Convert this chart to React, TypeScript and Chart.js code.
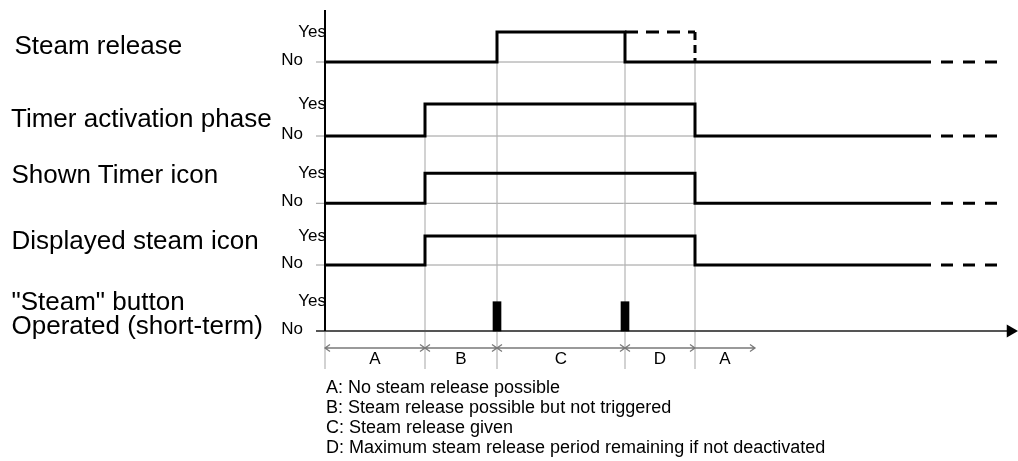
import React, { useEffect, useRef } from "react";
import { Chart, registerables } from "chart.js";

Chart.register(...registerables);

// ---------------- data ----------------
const signalLabels = [
  "Steam release",
  "Timer activation phase",
  "Shown Timer icon",
  "Displayed steam icon",
  "\"Steam\" button",
  "Operated (short-term)",
];
const stateLabels = ["No", "Yes"];

// time instants (arbitrary time units)
const phaseStarts = [0, 10, 17.2, 30, 37];
const phaseEnds = [10, 17.2, 30, 37, 43];
const phaseLabels = ["A", "B", "C", "D", "A"];
const phaseHasStartHead = [true, true, true, true, false];
const phaseDescriptions = [
  "A: No steam release possible",
  "B: Steam release possible but not triggered",
  "C: Steam release given",
  "D: Maximum steam release period remaining if not deactivated",
];

const steamReleaseTimes = [0, 17.2, 30, 60.6];
const steamReleaseStates = [0, 1, 0, 0];
const steamReleaseMaxTimes = [30, 37];
const steamReleaseMaxStates = [1, 1];

const timerPhaseTimes = [0, 10, 37, 60.6];
const timerPhaseStates = [0, 1, 0, 0];
const timerIconTimes = [0, 10, 37, 60.6];
const timerIconStates = [0, 1, 0, 0];
const steamIconTimes = [0, 10, 37, 60.6];
const steamIconStates = [0, 1, 0, 0];

const buttonPressTimes = [17.2, 30];
const continuationTimes = [61.6, 67.2];
const timeAxisEnd = 68.55;

// ---------------- layout ----------------
const ROW_NO = [269, 195, 127.7, 66, 0];
const ROW_H = [30, 32, 30, 29, 29.3];
const AXIS_TOP = 321;
const GRID_BOTTOM = -38;
const GRID_TOPS = [0, 227, 299, 299, 269];
const ARROW_Y = -17;
const LETTER_Y = -28;
const TICK_START = -0.9;

const lvl = (row: number, s: number) => ROW_NO[row] + s * ROW_H[row];
const stepData = (row: number, times: number[], states: number[]) =>
  times.map((t, i) => ({ x: t, y: lvl(row, states[i]) }));

const FONT = '"Liberation Sans", Arial, Helvetica, sans-serif';

const rowLabelPos = [
  { left: 14.5, base: 54 },
  { left: 11, base: 127 },
  { left: 11.5, base: 183 },
  { left: 11.5, base: 249 },
  { left: 11.5, base: 310 },
  { left: 11.5, base: 334 },
];

export default function App() {
  const canvasRef = useRef<HTMLCanvasElement | null>(null);

  useEffect(() => {
    if (!canvasRef.current) return;

    const thick = (data: any[], extra: any = {}) => ({
      type: "line",
      data,
      borderColor: "#000",
      borderWidth: 3,
      pointRadius: 0,
      borderJoinStyle: "miter",
      borderCapStyle: "butt",
      fill: false,
      order: 1,
      ...extra,
    });

    // gray baselines (No level) with tick
    const baseSeg: any[] = [];
    for (let r = 0; r < 4; r++) {
      baseSeg.push({ x: TICK_START, y: lvl(r, 0) }, { x: 60.6, y: lvl(r, 0) }, { x: TICK_START, y: null });
    }
    // vertical phase grid lines
    const gridSeg: any[] = [];
    phaseStarts.forEach((t, i) => {
      gridSeg.push({ x: t, y: GRID_TOPS[i] }, { x: t, y: GRID_BOTTOM }, { x: t, y: null });
    });
    // phase arrows
    const arrowSeg: any[] = [];
    const hx = 0.5;
    const hy = 3.5;
    phaseStarts.forEach((s, i) => {
      const e = phaseEnds[i];
      arrowSeg.push({ x: s, y: ARROW_Y }, { x: e, y: ARROW_Y }, { x: e, y: null });
      arrowSeg.push({ x: e - hx, y: ARROW_Y + hy }, { x: e, y: ARROW_Y }, { x: e - hx, y: ARROW_Y - hy }, { x: e, y: null });
      if (phaseHasStartHead[i]) {
        arrowSeg.push({ x: s + hx, y: ARROW_Y + hy }, { x: s, y: ARROW_Y }, { x: s + hx, y: ARROW_Y - hy }, { x: s, y: null });
      }
    });

    const datasets: any[] = [
      {
        type: "line",
        data: baseSeg,
        borderColor: "#9a9a9a",
        borderWidth: 1,
        pointRadius: 0,
        spanGaps: false,
        order: 10,
      },
      {
        type: "line",
        data: gridSeg,
        borderColor: "#b5b5b5",
        borderWidth: 1.2,
        pointRadius: 0,
        spanGaps: false,
        order: 9,
      },
      {
        type: "line",
        data: arrowSeg,
        borderColor: "#7a7a7a",
        borderWidth: 1.3,
        pointRadius: 0,
        spanGaps: false,
        order: 8,
      },
      // y axis
      thick([{ x: 0, y: 0 }, { x: 0, y: AXIS_TOP }], { borderWidth: 2, order: 2 }),
      // x axis with arrow head
      {
        type: "line",
        data: [{ x: TICK_START, y: 0 }, { x: timeAxisEnd, y: 0 }],
        borderColor: "#555",
        borderWidth: 2,
        pointRadius: [0, 7.5],
        pointStyle: "triangle",
        rotation: 90,
        pointBackgroundColor: "#000",
        pointBorderColor: "#000",
        pointBorderWidth: 0,
        clip: false,
        order: 2,
      },
      thick(stepData(0, steamReleaseTimes, steamReleaseStates), { stepped: "before" }),
      thick(stepData(0, steamReleaseMaxTimes, steamReleaseMaxStates), { borderDash: [13, 8] }),
      thick(
        [
          { x: steamReleaseMaxTimes[1], y: lvl(0, 1) },
          { x: steamReleaseMaxTimes[1], y: lvl(0, 0) },
        ],
        { borderDash: [8, 5] }
      ),
      thick(stepData(1, timerPhaseTimes, timerPhaseStates), { stepped: "before" }),
      thick(stepData(2, timerIconTimes, timerIconStates), { stepped: "before" }),
      thick(stepData(3, steamIconTimes, steamIconStates), { stepped: "before" }),
      ...[0, 1, 2, 3].map((r) =>
        thick(continuationTimes.map((t) => ({ x: t, y: lvl(r, 0) })), { borderDash: [12, 10] })
      ),
      {
        type: "bar",
        data: buttonPressTimes.map((t) => ({ x: t, y: [lvl(4, 0), lvl(4, 1)] })),
        backgroundColor: "#000",
        borderWidth: 0,
        barThickness: 8,
        order: 1,
      },
    ];

    const textPlugin = {
      id: "timingText",
      afterDatasetsDraw(chart: any) {
        const { ctx, scales } = chart;
        const x = scales.x;
        const y = scales.y;
        const ax = x.getPixelForValue(0);
        ctx.save();
        ctx.fillStyle = "#000";
        ctx.font = `17px ${FONT}`;
        ctx.textAlign = "right";
        ctx.textBaseline = "middle";
        for (let r = 0; r < ROW_NO.length; r++) {
          ctx.fillText(stateLabels[1], ax + 1, y.getPixelForValue(lvl(r, 1)));
          ctx.fillText(stateLabels[0], ax - 22, y.getPixelForValue(lvl(r, 0)) - 2);
        }
        ctx.font = `17px ${FONT}`;
        ctx.textAlign = "center";
        phaseLabels.forEach((l, i) => {
          ctx.fillText(l, x.getPixelForValue((phaseStarts[i] + phaseEnds[i]) / 2), y.getPixelForValue(LETTER_Y));
        });
        ctx.restore();
      },
    };

    const chart = new Chart(canvasRef.current, {
      type: "line",
      data: { datasets },
      options: {
        animation: false,
        responsive: false,
        devicePixelRatio: 1,
        layout: { autoPadding: false, padding: { left: 300, right: 0, top: 0, bottom: 0 } },
        plugins: { legend: { display: false }, tooltip: { enabled: false } },
        scales: {
          x: { type: "linear", min: -2.5, max: 69.3, display: false, offset: false },
          y: { type: "linear", min: -130, max: 331, display: false },
        },
      },
      plugins: [textPlugin],
    } as any);

    return () => chart.destroy();
  }, []);

  return (
    <div
      style={{
        position: "fixed",
        left: 0,
        top: 0,
        width: 1018,
        height: 461,
        background: "#fff",
        fontFamily: FONT,
        color: "#000",
        overflow: "hidden",
      }}
    >
      <canvas
        ref={canvasRef}
        width={1018}
        height={461}
        style={{ position: "absolute", left: 0, top: 0, width: 1018, height: 461 }}
      />
      {signalLabels.map((s, i) => (
        <div
          key={i}
          style={{
            position: "absolute",
            left: rowLabelPos[i].left,
            top: rowLabelPos[i].base - 22,
            fontSize: 26,
            lineHeight: "26px",
            whiteSpace: "nowrap",
          }}
        >
          {s}
        </div>
      ))}
      <div
        style={{
          position: "absolute",
          left: 326,
          top: 393 - 16.2,
          fontSize: 18,
          lineHeight: "20px",
          whiteSpace: "nowrap",
        }}
      >
        {phaseDescriptions.map((d, i) => (
          <div key={i}>{d}</div>
        ))}
      </div>
    </div>
  );
}
